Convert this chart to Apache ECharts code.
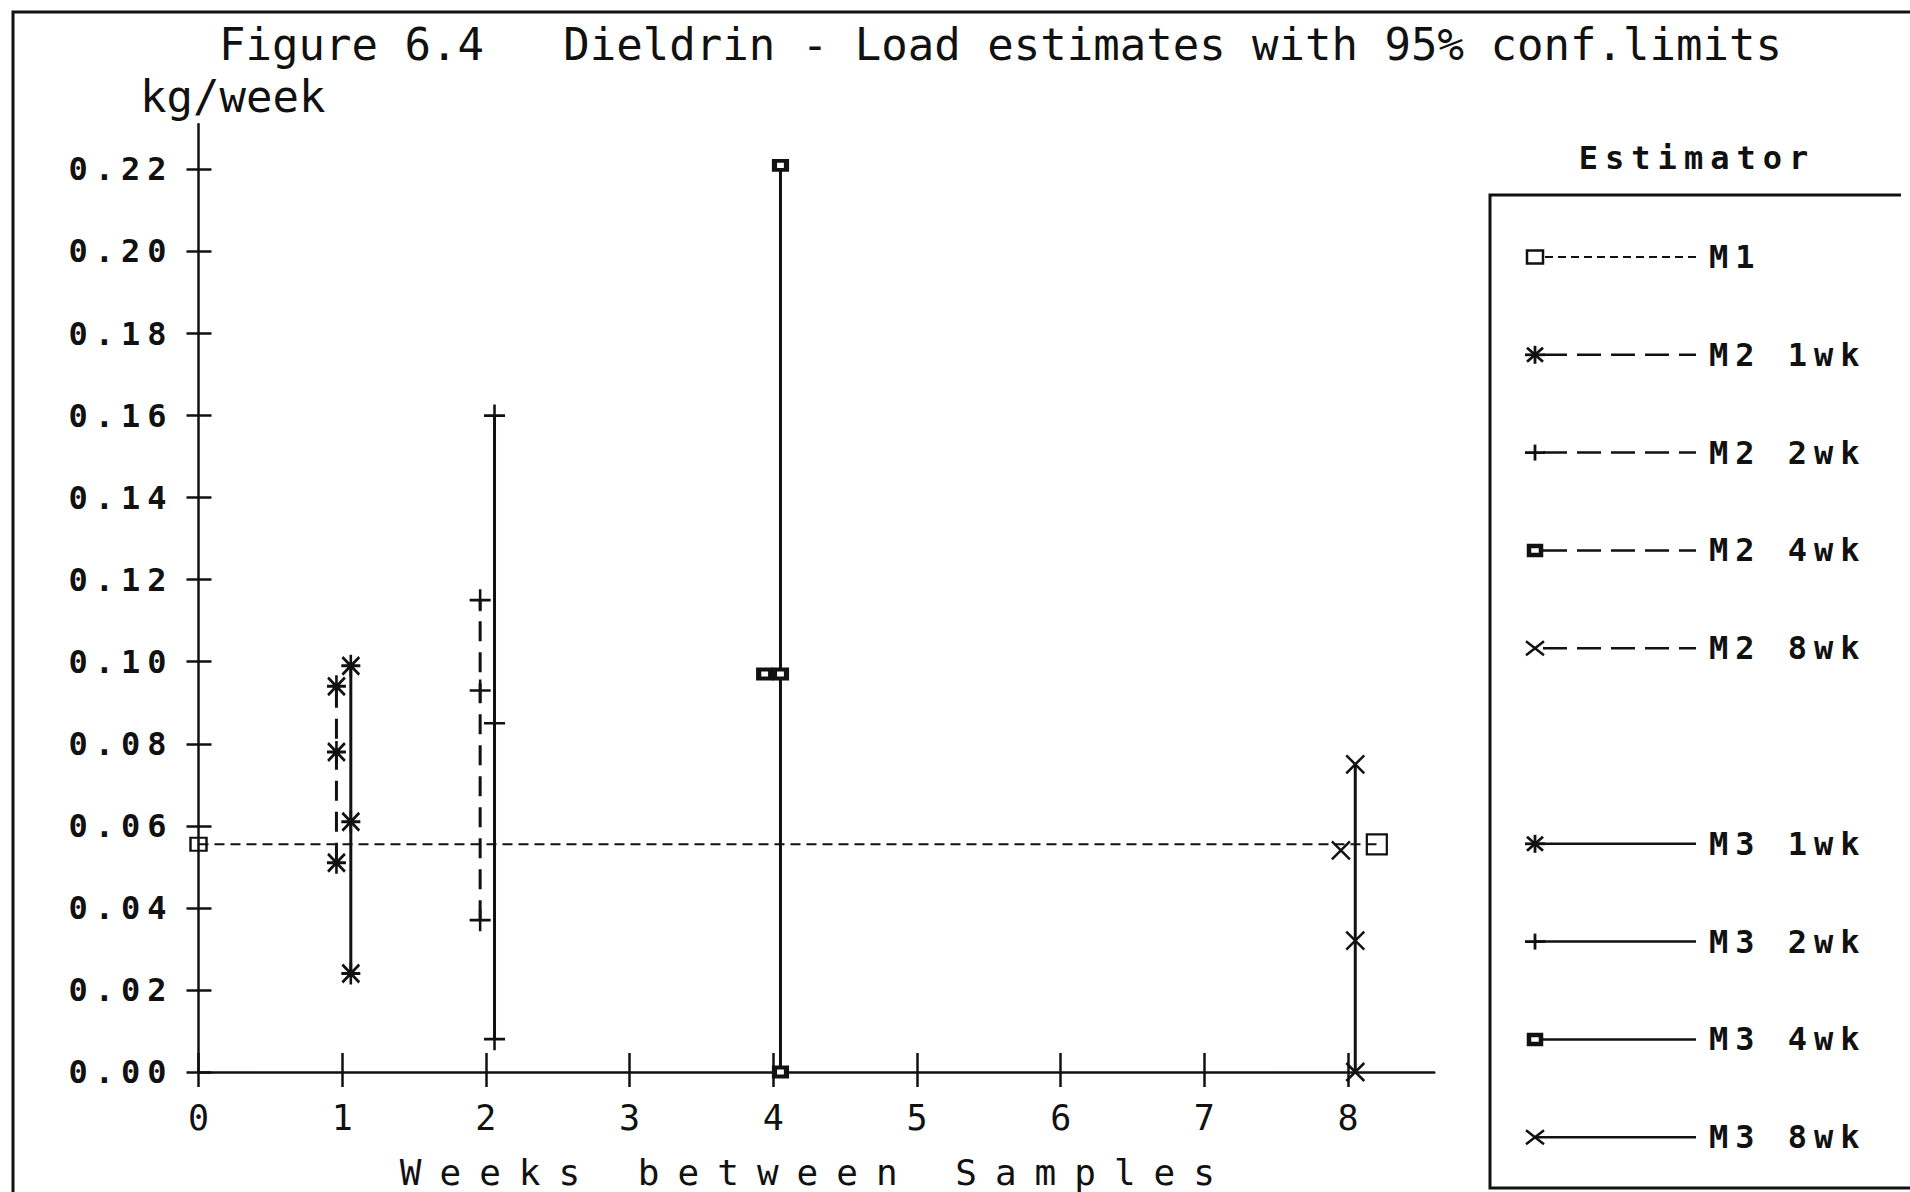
<!DOCTYPE html>
<html>
<head>
<meta charset="utf-8">
<script src="https://cdn.jsdelivr.net/npm/echarts@6/dist/echarts.min.js"></script>
<style>
  html, body { margin: 0; padding: 0; background: #fff; }
  #chart { width: 1910px; height: 1192px; }
  /* plotter-style spaced lettering */
  #chart text[style*="bold"] { letter-spacing: 7px; }
  #chart text[style*="monospace"] { letter-spacing: 18px; }
</style>
</head>
<body>
<div id="chart"></div>
<script>
// ---- texts ----
const TITLE = 'Figure 6.4   Dieldrin - Load estimates with 95% conf.limits';
const Y_NAME = 'kg/week';
const X_NAME = 'Weeks between Samples';
const LEGEND_TITLE = 'Estimator';

// ---- tick values ----
const xTicks = [0, 1, 2, 3, 4, 5, 6, 7, 8];
const yTicks = [0.00, 0.02, 0.04, 0.06, 0.08, 0.10, 0.12, 0.14, 0.16, 0.18, 0.20, 0.22];

// ---- M1: single load estimate, drawn across the sampling range ----
const m1Name = 'M1';
const m1Load = 0.0555;
const m1Span = [0, 8.2];

// ---- M2 estimates (lower limit, estimate, upper limit) ----
const m2Names = ['M2 1wk', 'M2 2wk', 'M2 4wk', 'M2 8wk'];
const m2X = [0.96, 1.96, 3.94, 7.95];
const m2Lower = [0.051, 0.037, null, null];
const m2Estimate = [0.078, 0.093, 0.097, 0.054];
const m2Upper = [0.094, 0.115, null, null];

// ---- M3 estimates (lower limit, estimate, upper limit) ----
const m3Names = ['M3 1wk', 'M3 2wk', 'M3 4wk', 'M3 8wk'];
const m3X = [1.06, 2.06, 4.05, 8.05];
const m3Lower = [0.024, 0.008, 0.000, 0.000];
const m3Estimate = [0.061, 0.085, 0.097, 0.032];
const m3Upper = [0.099, 0.160, 0.221, 0.075];

// marker kind per sampling interval (1, 2, 4, 8 weeks)
const markerKinds = ['asterisk', 'plus', 'square', 'cross'];

const INK = '#111';
const MONO = 'DejaVu Sans Mono';

const SYMBOLS = {
  asterisk: { symbol: 'path://M0,-10L0,10M-8,-8L8,8M-8,8L8,-8M-9,0L9,0', size: [19, 22], fill: 'transparent', border: 2.8 },
  plus:     { symbol: 'path://M0,-10L0,10M-10,0L10,0', size: [21, 22], fill: 'transparent', border: 2.6 },
  square:   { symbol: 'rect', size: [12, 9], fill: '#fff', border: 4.5 },
  cross:    { symbol: 'path://M-10,-10L10,10M-10,10L10,-10', size: [18, 18], fill: 'transparent', border: 2.5 }
};
const RECT_PATH = 'path://M-1,-1L1,-1L1,1L-1,1Z';

function intervalSeries(name, x, lo, est, hi, kind, dashed) {
  const s = SYMBOLS[kind];
  return {
    type: 'line',
    name: name,
    data: [lo, est, hi].filter(v => v != null).map(v => [x, v]),
    symbol: s.symbol,
    symbolSize: s.size,
    showSymbol: true,
    clip: false,
    z: 4,
    lineStyle: { color: INK, width: 3, type: dashed ? [20, 11] : 'solid' },
    itemStyle: { color: s.fill, borderColor: INK, borderWidth: s.border, opacity: 1 },
    emphasis: { disabled: true }
  };
}

const series = [{
  type: 'line',
  name: m1Name,
  data: [
    { value: [m1Span[0], m1Load], symbolSize: [16, 13] },
    { value: [m1Span[1], m1Load], symbolSize: [20, 20] }
  ],
  symbol: RECT_PATH,
  showSymbol: true,
  clip: false,
  z: 3,
  lineStyle: { color: INK, width: 2, type: [10, 6] },
  itemStyle: { color: 'transparent', borderColor: INK, borderWidth: 2.2, opacity: 1 },
  emphasis: { disabled: true }
}];
m2Names.forEach((n, i) => series.push(intervalSeries(n, m2X[i], m2Lower[i], m2Estimate[i], m2Upper[i], markerKinds[i], true)));
m3Names.forEach((n, i) => series.push(intervalSeries(n, m3X[i], m3Lower[i], m3Estimate[i], m3Upper[i], markerKinds[i], false)));

// ---- legend box (drawn as graphic elements) ----
const LEG_ROW0 = 257, LEG_STEP = 97.8;
const LEG_SYM_X = 1535, LEG_LINE_END = 1696, LEG_TEXT_X = 1709;
const legendRows = [
  { name: m1Name, kind: 'm1', style: 'm1', slot: 0 }
].concat(
  m2Names.map((n, i) => ({ name: n, kind: markerKinds[i], style: 'dash', slot: 1 + i })),
  m3Names.map((n, i) => ({ name: n, kind: markerKinds[i], style: 'solid', slot: 6 + i }))
);

function seg(x1, y1, x2, y2, w, dash) {
  return { type: 'line', silent: true, z: 10,
    shape: { x1, y1, x2, y2 },
    style: { stroke: INK, lineWidth: w, lineDash: dash || null } };
}
function legendMarker(kind, cx, cy) {
  if (kind === 'asterisk') return [seg(cx, cy - 9, cx, cy + 9, 2.8), seg(cx - 8, cy - 7, cx + 8, cy + 7, 2.8), seg(cx - 8, cy + 7, cx + 8, cy - 7, 2.8), seg(cx - 10, cy, cx + 10, cy, 2.8)];
  if (kind === 'plus') return [seg(cx, cy - 8, cx, cy + 8, 2.8), seg(cx - 10, cy, cx + 10, cy, 2.8)];
  if (kind === 'cross') return [seg(cx - 9, cy - 7, cx + 9, cy + 7, 2.5), seg(cx - 9, cy + 7, cx + 9, cy - 7, 2.5)];
  if (kind === 'square') return [{ type: 'rect', silent: true, z: 11, shape: { x: cx - 6, y: cy - 4.5, width: 12, height: 9 }, style: { fill: '#fff', stroke: INK, lineWidth: 4.5 } }];
  return [{ type: 'rect', silent: true, z: 11, shape: { x: cx - 8, y: cy - 6.5, width: 16, height: 13 }, style: { fill: 'none', stroke: INK, lineWidth: 2.5 } }];
}

const graphics = [
  // page frame
  { type: 'polyline', silent: true, shape: { points: [[13, 1200], [13, 12], [1915, 12]] }, style: { fill: 'none', stroke: INK, lineWidth: 3 } },
  // legend frame
  { type: 'polyline', silent: true, shape: { points: [[1901, 195], [1490, 195], [1490, 1188], [1915, 1188]] }, style: { fill: 'none', stroke: INK, lineWidth: 3 } },
  { type: 'text', silent: true, x: 1697, y: 158, style: { text: LEGEND_TITLE, font: 'bold 32px ' + MONO, fill: INK, align: 'center', verticalAlign: 'middle' } }
];
legendRows.forEach(r => {
  const y = LEG_ROW0 + r.slot * LEG_STEP;
  if (r.style === 'm1') graphics.push(seg(LEG_SYM_X + 10, y, LEG_LINE_END, y, 2, [8, 5]));
  else if (r.style === 'dash') graphics.push(seg(LEG_SYM_X + 8, y, LEG_LINE_END, y, 2.5, [24, 10]));
  else graphics.push(seg(LEG_SYM_X, y, LEG_LINE_END, y, 2.5));
  legendMarker(r.kind, LEG_SYM_X, y).forEach(g => graphics.push(g));
  graphics.push({ type: 'text', silent: true, x: LEG_TEXT_X, y: y,
    style: { text: r.name, font: 'bold 32px ' + MONO, fill: INK, align: 'left', verticalAlign: 'middle' } });
});

const axisLine = { show: true, onZero: false, lineStyle: { color: INK, width: 2.5 } };
const tickLine = { color: INK, width: 2.5 };

const option = {
  backgroundColor: '#fff',
  animation: false,
  title: [
    { text: TITLE, left: 219, top: 22, padding: 0,
      textStyle: { fontFamily: MONO, fontSize: 44, fontWeight: 'normal', color: INK } },
    { text: Y_NAME, left: 140, top: 74, padding: 0,
      textStyle: { fontFamily: MONO, fontSize: 44, fontWeight: 'normal', color: INK } }
  ],
  grid: { left: 198.5, right: 475.7, top: 124.3, bottom: 120, containLabel: false, outerBoundsMode: 'none' },
  xAxis: [
    {
      type: 'value', min: 0, max: 8.6, position: 'bottom',
      axisLine: axisLine,
      axisTick: { show: true, customValues: xTicks, length: 15, lineStyle: tickLine },
      axisLabel: { show: true, customValues: xTicks, margin: 28, color: INK,
        fontFamily: MONO, fontSize: 35, fontWeight: 'normal', formatter: v => String(v) },
      splitLine: { show: false },
      name: X_NAME, nameLocation: 'middle', nameGap: 82,
      nameTextStyle: { fontFamily: MONO + ', monospace', fontSize: 36, fontWeight: 'normal', color: INK }
    },
    {
      type: 'value', min: 0, max: 8.6, position: 'bottom',
      axisLine: { show: false },
      axisTick: { show: true, inside: true, customValues: xTicks, length: 19, lineStyle: tickLine },
      axisLabel: { show: false },
      splitLine: { show: false }
    }
  ],
  yAxis: [
    {
      type: 'value', min: 0, max: 0.231, position: 'left',
      axisLine: axisLine,
      axisTick: { show: true, customValues: yTicks, length: 12, lineStyle: tickLine },
      axisLabel: { show: true, customValues: yTicks, margin: 25, color: INK,
        fontFamily: MONO, fontSize: 32, fontWeight: 'bold', formatter: v => v.toFixed(2) },
      splitLine: { show: false }
    },
    {
      type: 'value', min: 0, max: 0.231, position: 'left',
      axisLine: { show: false },
      axisTick: { show: true, inside: true, customValues: yTicks, length: 13, lineStyle: tickLine },
      axisLabel: { show: false },
      splitLine: { show: false }
    }
  ],
  series: series,
  graphic: graphics
};

const chart = echarts.init(document.getElementById('chart'), null, { renderer: 'svg' });
chart.setOption(option);
</script>
</body>
</html>
